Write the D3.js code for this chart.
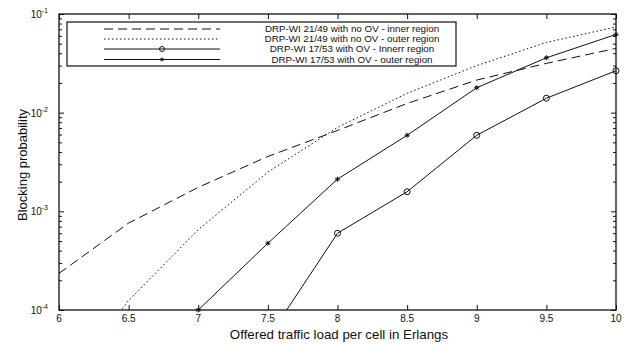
<!DOCTYPE html>
<html>
<head>
<meta charset="utf-8">
<script src="https://cdn.jsdelivr.net/npm/d3@7"></script>
<style>
body { margin: 0; background: #fff; }
text { font-family: "Liberation Sans", Arial, sans-serif; fill: #111; }
</style>
</head>
<body>
<svg width="628" height="345"></svg>
<script>
// offered load (Erlangs) and blocking probabilities
var loads = [6, 6.5, 7, 7.5, 8, 8.5, 9, 9.5, 10];
var innerNoOV = [2.35e-4, 7.6e-4, 1.75e-3, 3.6e-3, 6.6e-3, 1.24e-2, 2.14e-2, 3.16e-2, 4.48e-2];
var outerNoOV = [1.5e-5, 1.25e-4, 6.5e-4, 2.5e-3, 7.1e-3, 1.57e-2, 3.0e-2, 5.15e-2, 7.4e-2];
var innerOV = [null, null, null, 5.15e-5, 6.0e-4, 1.58e-3, 5.9e-3, 1.4e-2, 2.66e-2];
var outerOV = [null, null, 1.0e-4, 4.75e-4, 2.12e-3, 5.9e-3, 1.79e-2, 3.6e-2, 6.2e-2];

var legendLabels = ["DRP-WI 21/49 with no OV - inner region",
		    "DRP-WI 21/49 with no OV - outer region",
		    "DRP-WI 17/53 with OV - Innerr region",
		    "DRP-WI 17/53 with OV - outer region"];
var xTicks = [6, 6.5, 7, 7.5, 8, 8.5, 9, 9.5, 10];
var yTicks = [1e-4, 1e-3, 1e-2, 1e-1];

var series = [
    {values: innerNoOV, dash: "9,5", marker: null},
    {values: outerNoOV, dash: "1.5,2.5", marker: null},
    {values: innerOV, dash: null, marker: "circle"},
    {values: outerOV, dash: null, marker: "star"}
];

// plot box (don't call it "top", window.top is read-only)
var pL = 59, pR = 616, pT = 14, pB = 310;

var svg = d3.select("svg");

var x = d3.scaleLinear().domain([6, 10]).range([pL, pR]);
var y = d3.scaleLog().domain([1e-4, 1e-1]).range([pB, pT]);

svg.append("clipPath").attr("id", "plotclip")
    .append("rect")
    .attr("x", pL).attr("y", pT)
    .attr("width", pR - pL).attr("height", pB - pT);

// ticks, MATLAB style (inside, on all four sides)
svg.append("g").attr("transform", "translate(0," + pB + ")")
    .call(d3.axisBottom(x).tickValues(xTicks).tickSize(-5).tickFormat(""));
svg.append("g").attr("transform", "translate(0," + pT + ")")
    .call(d3.axisTop(x).tickValues(xTicks).tickSize(-5).tickFormat(""));

var minor = [];
yTicks.slice(0, 3).forEach(function(d){
    for(var k = 2; k <= 9; k++) minor.push(d * k);
});
svg.append("g").attr("transform", "translate(" + pL + ",0)")
    .call(d3.axisLeft(y).tickValues(minor).tickSize(-3).tickFormat(""));
svg.append("g").attr("transform", "translate(" + pR + ",0)")
    .call(d3.axisRight(y).tickValues(minor).tickSize(-3).tickFormat(""));
svg.append("g").attr("transform", "translate(" + pL + ",0)")
    .call(d3.axisLeft(y).tickValues(yTicks).tickSize(-5).tickFormat(""));
svg.append("g").attr("transform", "translate(" + pR + ",0)")
    .call(d3.axisRight(y).tickValues(yTicks).tickSize(-5).tickFormat(""));

svg.selectAll(".domain").remove();
svg.selectAll(".tick line").attr("stroke", "#111");

// frame
svg.append("rect")
    .attr("x", pL).attr("y", pT)
    .attr("width", pR - pL).attr("height", pB - pT)
    .attr("fill", "none").attr("stroke", "#111").attr("stroke-width", 1.3);

// tick labels
svg.append("g").selectAll("text").data(xTicks).enter().append("text")
    .attr("x", d => x(d))
    .attr("y", 322)
    .attr("text-anchor", "middle")
    .attr("font-size", 10)
    .text(d => d);

var yl = svg.append("g").selectAll("text").data(yTicks).enter().append("text")
    .attr("x", 48)
    .attr("y", d => y(d) + 4)
    .attr("text-anchor", "end")
    .attr("font-size", 10)
    .text("10");
yl.append("tspan")
    .attr("dy", -5)
    .attr("font-size", 7)
    .text(d => Math.round(Math.log10(d)));

// axis titles
svg.append("text")
    .attr("x", 339).attr("y", 339)
    .attr("text-anchor", "middle")
    .attr("font-size", 13.3)
    .text("Offered traffic load per cell in Erlangs");
svg.append("text")
    .attr("transform", "translate(27,165) rotate(-90)")
    .attr("text-anchor", "middle")
    .attr("font-size", 13)
    .text("Blocking probability");

// curves
var plot = svg.append("g").attr("clip-path", "url(#plotclip)");
var line = d3.line()
    .defined(d => d[1] != null)
    .x(d => x(d[0]))
    .y(d => y(d[1]));

function starPath(cx, cy, s){
    return "M" + (cx - s) + "," + cy + "H" + (cx + s) +
	"M" + cx + "," + (cy - s) + "V" + (cy + s) +
	"M" + (cx - s * 0.7) + "," + (cy - s * 0.7) + "L" + (cx + s * 0.7) + "," + (cy + s * 0.7) +
	"M" + (cx - s * 0.7) + "," + (cy + s * 0.7) + "L" + (cx + s * 0.7) + "," + (cy - s * 0.7);
}

series.forEach(function(s){
    var pts = loads.map((l, i) => [l, s.values[i]]);
    plot.append("path")
	.attr("d", line(pts))
	.attr("fill", "none")
	.attr("stroke", "#111")
	.attr("stroke-width", 1)
	.attr("stroke-dasharray", s.dash);
    var shown = pts.filter(d => d[1] != null && d[1] >= 1e-4);
    if(s.marker == "circle"){
	svg.append("g").selectAll("circle").data(shown).enter().append("circle")
	    .attr("cx", d => x(d[0])).attr("cy", d => y(d[1]))
	    .attr("r", 3).attr("fill", "none").attr("stroke", "#111");
    }
    if(s.marker == "star"){
	svg.append("g").selectAll("path").data(shown).enter().append("path")
	    .attr("d", d => starPath(x(d[0]), y(d[1]), 2.5))
	    .attr("stroke", "#111").attr("stroke-width", 1);
    }
});

// legend
var lg = svg.append("g");
lg.append("rect")
    .attr("x", 67).attr("y", 22)
    .attr("width", 389).attr("height", 44)
    .attr("fill", "#fff").attr("stroke", "#111").attr("stroke-width", 1.2);
var rowY = [29, 39, 49, 59.5];
series.forEach(function(s, i){
    lg.append("line")
	.attr("x1", 104).attr("x2", 220)
	.attr("y1", rowY[i]).attr("y2", rowY[i])
	.attr("stroke", "#111")
	.attr("stroke-dasharray", s.dash);
    if(s.marker == "circle"){
	lg.append("circle").attr("cx", 162).attr("cy", rowY[i]).attr("r", 2.5)
	    .attr("fill", "none").attr("stroke", "#111");
    }
    if(s.marker == "star"){
	lg.append("path").attr("d", starPath(162, rowY[i], 2))
	    .attr("stroke", "#111");
    }
    lg.append("text")
	.attr("x", 352).attr("y", rowY[i] + 3.4)
	.attr("text-anchor", "middle")
	.attr("font-size", 9.8)
	.text(legendLabels[i]);
});
</script>
</body>
</html>
